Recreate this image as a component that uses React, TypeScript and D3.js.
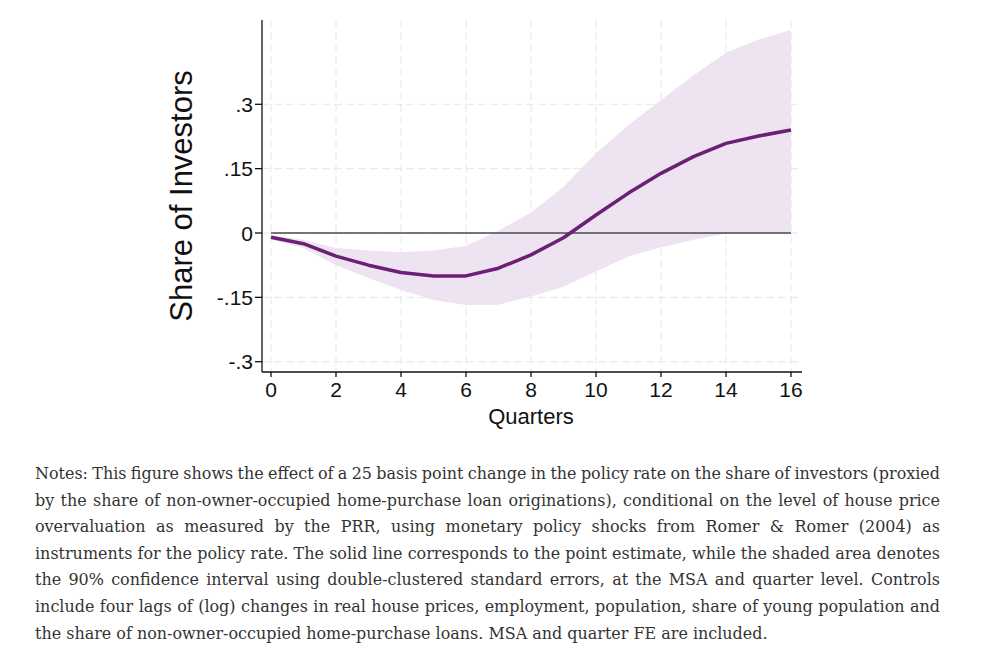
import React, { useEffect, useRef } from "react";
import * as d3 from "d3";

// quarters after the shock
const quarters = [0, 1, 2, 3, 4, 5, 6, 7, 8, 9, 10, 11, 12, 13, 14, 15, 16];
// point estimate
const estimate = [-0.010, -0.025, -0.054, -0.075, -0.092, -0.100, -0.100, -0.082, -0.051, -0.011, 0.042, 0.093, 0.139, 0.178, 0.209, 0.226, 0.240];
// 90% confidence interval
const upper = [-0.005, -0.016, -0.035, -0.041, -0.045, -0.041, -0.030, 0.005, 0.048, 0.108, 0.186, 0.252, 0.310, 0.368, 0.420, 0.451, 0.473];
const lower = [-0.015, -0.035, -0.075, -0.105, -0.133, -0.156, -0.168, -0.167, -0.148, -0.125, -0.090, -0.055, -0.033, -0.016, -0.002, 0.000, 0.000];

const xTicks = [0, 2, 4, 6, 8, 10, 12, 14, 16];
const yTicks = [-0.3, -0.15, 0, 0.15, 0.3];
const yTickLabels = ["-.3", "-.15", "0", ".15", ".3"];

const notes = [
    "Notes: This figure shows the effect of a 25 basis point change in the policy rate on the share of investors (proxied",
    "by the share of non-owner-occupied home-purchase loan originations), conditional on the level of house price",
    "overvaluation as measured by the PRR, using monetary policy shocks from Romer & Romer (2004) as",
    "instruments for the policy rate. The solid line corresponds to the point estimate, while the shaded area denotes",
    "the 90% confidence interval using double-clustered standard errors, at the MSA and quarter level. Controls",
    "include four lags of (log) changes in real house prices, employment, population, share of young population and",
    "the share of non-owner-occupied home-purchase loans. MSA and quarter FE are included.",
];

const plotTop = 20, plotBottom = 372, plotLeft = 262, plotRight = 802;
const sans = "'Liberation Sans', Arial, sans-serif";
const serif = "'DejaVu Serif', 'Liberation Serif', serif";

function App() {
    const ref = useRef<SVGSVGElement>(null);

    useEffect(() => {
        const svg = d3.select(ref.current);
        svg.selectAll("*").remove();

        const x = d3.scaleLinear().domain([0, 16]).range([271, 791]);
        const y = d3.scaleLinear().domain([-0.3, 0.3]).range([361.7, 104.3]);

        // grid
        const grid = svg.append("g").attr("stroke", "#e6e6e6").attr("stroke-width", 1).attr("stroke-dasharray", "8,4");
        xTicks.forEach(t => {
            grid.append("line").attr("x1", x(t)).attr("x2", x(t)).attr("y1", plotTop).attr("y2", plotBottom);
        });
        yTicks.forEach(t => {
            grid.append("line").attr("x1", plotLeft).attr("x2", plotRight).attr("y1", y(t)).attr("y2", y(t));
        });

        // confidence band
        svg.append("path")
            .datum(quarters)
            .attr("fill", "#eee4f1")
            .attr("d", d3.area<number>()
                .x(d => x(d))
                .y0((d, i) => y(lower[i]))
                .y1((d, i) => y(upper[i])));

        // zero line
        svg.append("line")
            .attr("x1", x(0)).attr("x2", x(16))
            .attr("y1", y(0)).attr("y2", y(0))
            .attr("stroke", "#4a4a4a").attr("stroke-width", 1.3);

        // point estimate
        svg.append("path")
            .datum(quarters)
            .attr("fill", "none")
            .attr("stroke", "#6c1f76")
            .attr("stroke-width", 3.5)
            .attr("stroke-linejoin", "round")
            .attr("d", d3.line<number>()
                .x(d => x(d))
                .y((d, i) => y(estimate[i])));

        // axes
        const ax = svg.append("g").attr("stroke", "#111").attr("stroke-width", 1.3);
        ax.append("line").attr("x1", plotLeft).attr("x2", plotLeft).attr("y1", plotTop).attr("y2", plotBottom);
        ax.append("line").attr("x1", plotLeft).attr("x2", plotRight).attr("y1", plotBottom).attr("y2", plotBottom);
        xTicks.forEach(t => {
            ax.append("line").attr("x1", x(t)).attr("x2", x(t)).attr("y1", plotBottom).attr("y2", plotBottom + 5);
        });
        yTicks.forEach(t => {
            ax.append("line").attr("x1", plotLeft - 7).attr("x2", plotLeft).attr("y1", y(t)).attr("y2", y(t));
        });

        svg.append("g").selectAll("text")
            .data(xTicks)
            .enter().append("text")
            .attr("x", d => x(d))
            .attr("y", 397)
            .attr("text-anchor", "middle")
            .style("font-family", sans)
            .style("font-size", "21px")
            .attr("fill", "#111")
            .text(d => String(d));

        svg.append("g").selectAll("text")
            .data(yTicks)
            .enter().append("text")
            .attr("x", 253)
            .attr("y", d => y(d) + 7.5)
            .attr("text-anchor", "end")
            .style("font-family", sans)
            .style("font-size", "21px")
            .attr("fill", "#111")
            .text((d, i) => yTickLabels[i]);

        // axis titles
        svg.append("text")
            .attr("transform", "translate(192,196) rotate(-90)")
            .attr("text-anchor", "middle")
            .style("font-family", sans)
            .style("font-size", "31px")
            .attr("fill", "#111")
            .text("Share of Investors");

        svg.append("text")
            .attr("x", x(8))
            .attr("y", 424)
            .attr("text-anchor", "middle")
            .style("font-family", sans)
            .style("font-size", "22px")
            .attr("fill", "#111")
            .text("Quarters");

        // notes: size the font so the last (ragged) line has the reference width,
        // then justify the other lines with word spacing
        const noteWidth = 905;
        const lastWidth = 733;
        const probe = svg.append("text")
            .style("font-family", serif)
            .style("font-size", "18px")
            .text(notes[notes.length - 1]);
        const probeLen = (probe.node() as SVGTextElement).getComputedTextLength();
        probe.remove();
        const fontSize = 18 * lastWidth / probeLen;

        notes.forEach((line, i) => {
            const t = svg.append("text")
                .attr("x", 35)
                .attr("y", 479 + i * 26.6)
                .style("font-family", serif)
                .style("font-size", `${fontSize}px`)
                .attr("fill", "#333")
                .text(line);
            if (i < notes.length - 1) {
                const len = (t.node() as SVGTextElement).getComputedTextLength();
                const spaces = line.split(" ").length - 1;
                t.style("word-spacing", `${(noteWidth - len) / spaces}px`);
            }
        });
    }, []);

    return (
        <svg ref={ref} width={984} height={668}
            style={{ position: "absolute", left: 0, top: 0, background: "#fff" }} />
    );
}

export default App;
